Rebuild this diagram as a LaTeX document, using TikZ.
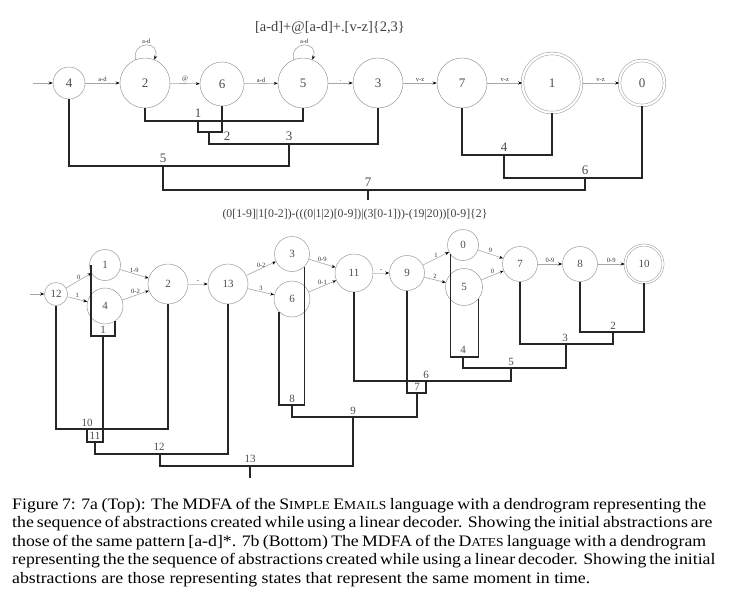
\documentclass[tikz,border=0pt]{standalone}
\usepackage{fontspec}
\setmainfont{Liberation Serif}
\newfontfamily\capfont[FakeStretch=1.11]{Liberation Serif}
\usetikzlibrary{arrows.meta}
\newcommand\fsc[1]{{\fontsize{12.2}{12.2}\selectfont #1}}
\begin{document}
\begin{tikzpicture}[x=1pt,y=-1pt,
  tst/.style={circle,draw=gray!80,line width=0.5pt,inner sep=0pt,text=black!70,font=\fontsize{13}{13}\selectfont},
  bst/.style={circle,draw=gray!80,line width=0.5pt,inner sep=0pt,text=black!70,font=\fontsize{11}{11}\selectfont},
  acc/.style={double=white,double distance=2.2pt},
  tr/.style={draw=gray!70,line width=0.6pt,-{Stealth[length=4pt,width=3pt,black]}},
  trl/.style={tr,draw=gray!40},
  el/.style={font=\fontsize{6.5}{6.5}\selectfont,text=black!80,inner sep=1pt},
  dend/.style={line width=1.6pt,black!85},
  tdl/.style={font=\fontsize{13}{13}\selectfont,text=black!70,inner sep=0pt},
  bdl/.style={font=\fontsize{11}{11}\selectfont,text=black!70,inner sep=0pt},
  capl/.style={anchor=base west,inner sep=0pt,font=\capfont\fontsize{16}{18}\selectfont}]
\useasboundingbox (0,0) rectangle (741,592);

% ---------------- top automaton ----------------
\node[font=\fontsize{14.5}{15}\selectfont,text=black!75] (rx1) at (330,28) {[a-d]+@[a-d]+.[v-z]\{2,3\}};

\node[tst,minimum size=32pt] (t4) at (69,83) {4};
\node[tst,minimum size=50pt] (t2) at (145,83) {2};
\node[tst,minimum size=44pt] (t6) at (222,84) {6};
\node[tst,minimum size=50pt] (t5) at (303,83) {5};
\node[tst,minimum size=50pt] (t3) at (378,83) {3};
\node[tst,minimum size=50pt] (t7) at (462,83) {7};
\node[tst,acc,minimum size=59pt] (t1) at (552,83) {1};
\node[tst,acc,minimum size=45pt] (t0) at (642,83) {0};

\coordinate (ts) at (33,83);
\draw[tr] (ts) -- (t4);
\draw[tr] (t4) -- node[el,above] {a-d} (t2);
\draw[tr] (t2) -- node[el,above] {@} (t6);
\draw[tr] (t6) -- node[el,above] {a-d} (t5);
\draw[tr] (t5) -- node[el,above] {.} (t3);
\draw[tr] (t3) -- node[el,above] {v-z} (t7);
\draw[tr] (t7) -- node[el,above] {v-z} (t1);
\draw[tr] (t1) -- node[el,above] {v-z} (t0);
\draw[tr] (t2.112) .. controls +(100:20pt) and +(70:20pt) .. node[el,above] {a-d} (t2.68);
\draw[tr] (t5.112) .. controls +(100:20pt) and +(70:20pt) .. node[el,above] {a-d} (t5.68);

% top dendrogram
\coordinate (L1) at (198,121);
\coordinate (L2) at (209,132);
\coordinate (L3) at (289,144);
\coordinate (L5) at (163,166);
\coordinate (L4) at (504,155);
\coordinate (L6) at (585,178);
\coordinate (L7) at (368,190);
\coordinate (L7e) at (368,200);
\draw[dend] (t2.south) |- (L1) -| (t5.south);
\draw[dend] (L1) |- (L2) -| (t6.south);
\draw[dend] (L2) |- (L3) -| (t3.south);
\draw[dend] (t4.south) |- (L5) -| (L3);
\draw[dend] (t7.south) |- (L4) -| (t1.south);
\draw[dend] (L4) |- (L6) -| (t0.south);
\draw[dend] (L5) |- (L7) -| (L6);
\draw[dend] (L7) -- (L7e);
\node[tdl] (tl1) at (198,113) {1};
\node[tdl] (tl2) at (227,136) {2};
\node[tdl] (tl3) at (289,136) {3};
\node[tdl] (tl5) at (163,158) {5};
\node[tdl] (tl4) at (504,147) {4};
\node[tdl] (tl6) at (585,170) {6};
\node[tdl] (tl7) at (368,182) {7};

% ---------------- bottom automaton ----------------
\node[font=\fontsize{11.8}{12}\selectfont,text=black!75] (rx2) at (355,215) {(0[1-9]|1[0-2])-(((0|1|2)[0-9])|(3[0-1]))-(19|20))[0-9]\{2\}};

\node[bst,minimum size=23pt] (b12) at (56,294) {12};
\node[bst,minimum size=31pt] (b1) at (105,265) {1};
\node[bst,minimum size=36pt] (b4) at (105,306) {4};
\node[bst,minimum size=40pt] (b2) at (168,284) {2};
\node[bst,minimum size=40pt] (b13) at (228,284) {13};
\node[bst,minimum size=35pt] (b3) at (292,254) {3};
\node[bst,minimum size=36pt] (b6) at (292,299) {6};
\node[bst,minimum size=38pt] (b11) at (354,273) {11};
\node[bst,minimum size=35pt] (b9) at (407,273) {9};
\node[bst,minimum size=31pt] (b0) at (463,245) {0};
\node[bst,minimum size=37pt] (b5) at (464,287) {5};
\node[bst,minimum size=35pt] (b7) at (520,264) {7};
\node[bst,minimum size=35pt] (b8) at (580,264) {8};
\node[bst,acc,double distance=1.6pt,minimum size=38pt] (b10) at (644,264) {10};

\coordinate (bs) at (30,294);
\draw[tr] (bs) -- (b12);
\draw[tr] (b12) -- node[el,above] {0} (b1);
\draw[tr] (b12) -- node[el,above] {1} (b4);
\draw[tr] (b1) -- node[el,above] {1-9} (b2);
\draw[tr] (b4) -- node[el,above] {0-2} (b2);
\draw[trl] (b2) -- node[el,above] {-} (b13);
\draw[tr] (b13) -- node[el,above] {0-2} (b3);
\draw[tr] (b13) -- node[el,above] {3} (b6);
\draw[tr] (b3) -- node[el,above] {0-9} (b11);
\draw[tr] (b6) -- node[el,above] {0-1} (b11);
\draw[trl] (b11) -- node[el,above] {-} (b9);
\draw[tr] (b9) -- node[el,above] {1} (b0);
\draw[tr] (b9) -- node[el,above] {2} (b5);
\draw[tr] (b0) -- node[el,above] {9} (b7);
\draw[tr] (b5) -- node[el,above] {0} (b7);
\draw[tr] (b7) -- node[el,above] {0-9} (b8);
\draw[tr] (b8) -- node[el,above] {0-9} (b10);

% bottom dendrogram
\coordinate (M1) at (103,336);
\coordinate (M10) at (87,429);
\coordinate (M11) at (95,442);
\coordinate (M12) at (160,454);
\coordinate (M8) at (292,405);
\coordinate (M2) at (613,332);
\coordinate (M3) at (566,344);
\coordinate (M4) at (463,357);
\coordinate (M5) at (511,368);
\coordinate (M6) at (426,381);
\coordinate (M7) at (417,393);
\coordinate (M9) at (353,417);
\coordinate (M13) at (250,466);
\coordinate (M13e) at (250,478);
\draw[dend] ([xshift=2pt]b1.west) |- (M1) -| (b4.-56);
\draw[dend] (b12.south) |- (M10) -| (b2.south);
\draw[dend] (M10) |- (M11) -| (M1);
\draw[dend] (M11) |- (M12) -| (b13.south);
\draw[dend] (b6.-136) |- (M8) -| (b3.-45);
\draw[dend] (b8.south) |- (M2) -| (b10.south);
\draw[dend] (b7.south) |- (M3) -| (M2);
\draw[dend] (b0.-143) |- (M4) -| (b5.-39);
\draw[dend] (M4) |- (M5) -| (M3);
\draw[dend] (b11.south) |- (M6) -| (M5);
\draw[dend] (b9.south) |- (M7) -| (M6);
\draw[dend] (M8) |- (M9) -| (M7);
\draw[dend] (M12) |- (M13) -| (M9);
\draw[dend] (M13) -- (M13e);
\node[bdl] (bl1) at (103,330) {1};
\node[bdl] (bl10) at (87,423) {10};
\node[bdl] (bl11) at (95,436) {11};
\node[bdl] (bl12) at (159,447) {12};
\node[bdl] (bl13) at (250,459) {13};
\node[bdl] (bl8) at (292,399) {8};
\node[bdl] (bl9) at (353,411) {9};
\node[bdl] (bl6) at (426,375) {6};
\node[bdl] (bl7) at (417,387) {7};
\node[bdl] (bl4) at (463,350) {4};
\node[bdl] (bl5) at (511,362) {5};
\node[bdl] (bl3) at (565,338) {3};
\node[bdl] (bl2) at (613,326) {2};

% ---------------- caption ----------------
\node[capl] (c1) at (12,509) {\makebox[694pt][s]{Figure 7: 7a (Top): The MDFA of the S\fsc{IMPLE} E\fsc{MAILS} language with a dendrogram representing the}};
\node[capl] (c2) at (12,527.5) {\makebox[694pt][s]{the sequence of abstractions created while using a linear decoder. Showing the initial abstractions are}};
\node[capl] (c3) at (12,546) {\makebox[694pt][s]{those of the same pattern [a-d]*. 7b (Bottom) The MDFA of the D\fsc{ATES} language with a dendrogram}};
\node[capl] (c4) at (12,564.5) {\makebox[694pt][s]{representing the the sequence of abstractions created while using a linear decoder. Showing the initial}};
\node[capl] (c5) at (12,583) {abstractions are those representing states that represent the same moment in time.};
\end{tikzpicture}
\end{document}
